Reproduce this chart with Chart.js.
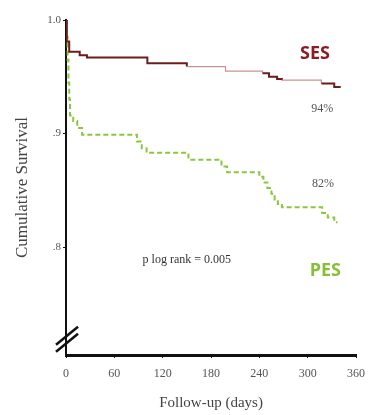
<!DOCTYPE html>
<html><head><meta charset="utf-8">
<script src="https://cdn.jsdelivr.net/npm/chart.js@4.4.1/dist/chart.umd.min.js"></script>
<style>html,body{margin:0;padding:0;background:#fff;}#wrap{width:374px;height:415px;position:relative;}</style>
</head><body><div id="wrap"><canvas id="c" width="374" height="415"></canvas></div>
<script>
// ---- data ----
const sesDays = [0, 1, 4, 17, 26, 101, 150, 198, 244, 252, 262, 268, 317, 333, 341];
const sesSurv = [1.0, 0.981, 0.972, 0.969, 0.967, 0.962, 0.959, 0.955, 0.953, 0.950, 0.948, 0.947, 0.944, 0.941, 0.941];
const pesDays = [0, 1, 2, 3, 4, 5, 9, 14, 20, 88, 94, 100, 152, 193, 200, 240, 245, 250, 255, 259, 263, 268, 318, 325, 333, 337];
const pesSurv = [1.0, 0.985, 0.965, 0.945, 0.93, 0.916, 0.911, 0.905, 0.899, 0.893, 0.887, 0.883, 0.877, 0.871, 0.866, 0.862, 0.857, 0.852, 0.847, 0.842, 0.838, 0.835, 0.830, 0.826, 0.822, 0.822];
const xTicks = [0, 60, 120, 180, 240, 300, 360];
const yTicks = [0.8, 0.9, 1.0];
const yTickLabels = ['.8', '.9', '1.0'];
const seriesNames = ['SES', 'PES'];
const endLabels = ['94%', '82%'];
const pText = 'p log rank = 0.005';

const serif = "'Liberation Serif', 'DejaVu Serif', serif";
const sans = "'Open Sans', 'Liberation Sans', sans-serif";

const toPts = (xs, ys) => xs.map((x, i) => ({x, y: ys[i]}));

const notes = [
  {text: seriesNames[0], x: 309, y: 0.970, font: 'bold 18px ' + sans, color: '#8b1c25'},
  {text: endLabels[0], x: 318, y: 0.922, font: '12px ' + serif, color: '#555'},
  {text: endLabels[1], x: 319, y: 0.856, font: '12px ' + serif, color: '#555'},
  {text: seriesNames[1], x: 322, y: 0.779, font: 'bold 18px ' + sans, color: '#86c03a'},
  {text: pText, x: 150, y: 0.789, font: '12px ' + serif, color: '#333'}
];

const notePlugin = {
  id: 'notes',
  afterDraw(chart) {
    const {ctx, scales: {x, y}, chartArea: a} = chart;
    ctx.save();
    ctx.textAlign = 'center';
    ctx.textBaseline = 'middle';
    notes.forEach(n => {
      ctx.font = n.font;
      ctx.fillStyle = n.color;
      ctx.fillText(n.text, x.getPixelForValue(n.x), y.getPixelForValue(n.y));
    });
    // axis break marks
    const bx = a.left + 1;
    const by = y.getPixelForValue(0.722);
    ctx.strokeStyle = '#111';
    ctx.lineWidth = 2.5;
    [0, 7].forEach(d => {
      ctx.beginPath();
      ctx.moveTo(bx - 11, by + 9 + d);
      ctx.lineTo(bx + 11, by - 9 + d);
      ctx.stroke();
    });
    ctx.restore();
  }
};

new Chart(document.getElementById('c'), {
  type: 'line',
  data: {
    datasets: [
      {
        label: seriesNames[0],
        data: toPts(sesDays, sesSurv),
        stepped: 'before',
        borderColor: '#6b1c1c',
        borderWidth: 2,
        pointRadius: 0,
        fill: false,
        segment: {
          borderColor: c => (c.p1.parsed.x - c.p0.parsed.x >= 40 && c.p0.parsed.x >= 150) ? '#c99393' : undefined,
          borderWidth: c => (c.p1.parsed.x - c.p0.parsed.x >= 40 && c.p0.parsed.x >= 150) ? 1.2 : undefined
        }
      },
      {
        label: seriesNames[1],
        data: toPts(pesDays, pesSurv),
        stepped: 'before',
        borderColor: '#8cc540',
        borderWidth: 2,
        borderDash: [5, 3],
        pointRadius: 0,
        fill: false
      }
    ]
  },
  options: {
    responsive: false,
    animation: false,
    layout: {padding: {left: 0, top: 20, right: 17, bottom: 0}},
    plugins: {legend: {display: false}, tooltip: {enabled: false}},
    scales: {
      x: {
        type: 'linear', min: 0, max: 360,
        afterBuildTicks: s => { s.ticks = xTicks.map(v => ({value: v})); },
        afterFit: s => { s.height = 60; },
        border: {display: true, color: '#111', width: 3},
        grid: {drawOnChartArea: false, drawTicks: true, tickLength: 3, color: '#111'},
        ticks: {color: '#555', font: {family: serif, size: 12}, padding: 9, maxRotation: 0},
        title: {display: true, text: 'Follow-up (days)', color: '#444', font: {family: serif, size: 15}, padding: {top: 2, bottom: 3}}
      },
      y: {
        type: 'linear', min: 0.705, max: 1.0,
        afterBuildTicks: s => { s.ticks = yTicks.map(v => ({value: v})); },
        afterFit: s => { s.width = 66; },
        border: {display: true, color: '#111', width: 2},
        grid: {drawOnChartArea: false, drawTicks: true, tickLength: 3, color: '#111'},
        ticks: {color: '#555', font: {family: serif, size: 11}, padding: 2,
          callback: v => { const i = yTicks.findIndex(t => Math.abs(t - v) < 1e-6); return i >= 0 ? yTickLabels[i] : ''; }},
        title: {display: true, text: 'Cumulative Survival', color: '#444', font: {family: serif, size: 17}, padding: {top: 12, bottom: 0}}
      }
    }
  },
  plugins: [notePlugin]
});
</script>
</body></html>
